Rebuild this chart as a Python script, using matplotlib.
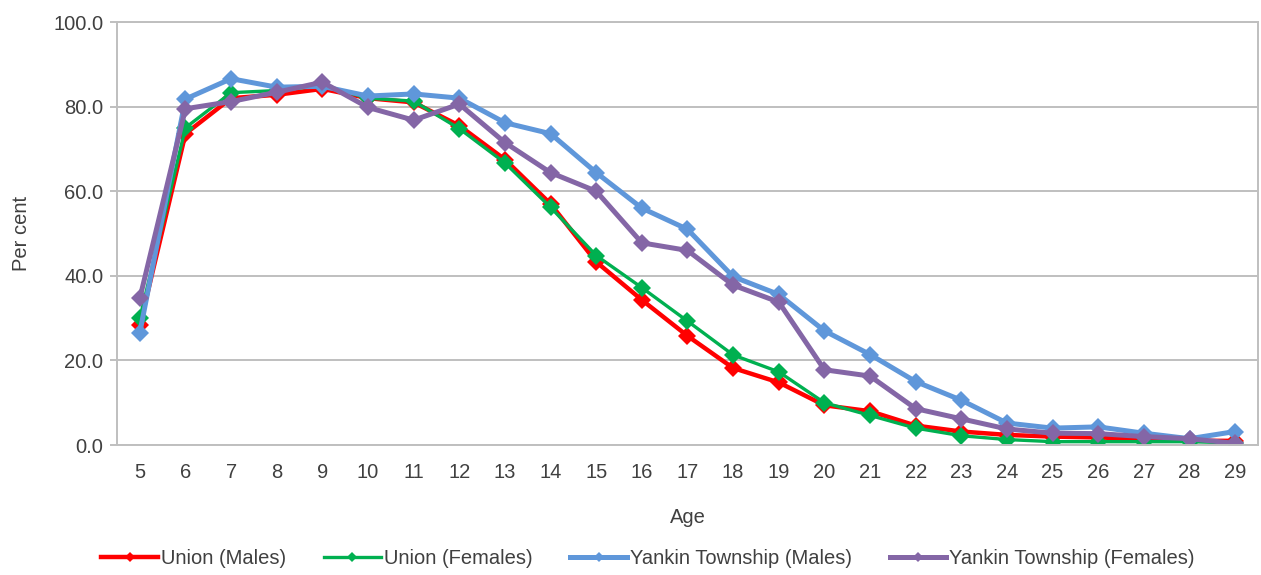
import matplotlib.pyplot as plt
import numpy as np

plt.rcParams['font.family'] = ['Liberation Sans', 'DejaVu Sans']

ages = list(range(5, 30))

union_males = [28.3, 73.6, 82.0, 82.8, 84.2, 82.0, 81.0, 75.5, 67.5, 57.0, 43.3, 34.3,
               25.8, 18.2, 14.8, 9.4, 8.0, 4.6, 3.2, 2.4, 2.0, 1.8, 1.4, 1.0, 1.0]
union_females = [30.0, 75.0, 83.3, 83.8, 85.0, 82.0, 81.3, 74.8, 66.7, 56.2, 44.8, 37.2,
                 29.3, 21.3, 17.3, 10.0, 7.0, 4.0, 2.2, 1.3, 0.8, 0.8, 0.8, 0.8, 0.5]
yankin_males = [26.6, 81.8, 86.6, 84.6, 84.8, 82.5, 83.0, 82.0, 76.2, 73.6, 64.4, 56.0,
                51.0, 39.8, 35.6, 27.0, 21.4, 15.0, 10.6, 5.2, 4.0, 4.3, 2.8, 1.5, 3.2]
yankin_females = [34.7, 79.5, 81.2, 83.4, 85.8, 79.8, 76.8, 80.6, 71.5, 64.4, 60.0, 47.8,
                  46.0, 37.8, 33.8, 17.8, 16.3, 8.6, 6.2, 3.8, 2.8, 2.7, 2.0, 1.5, 0.4]

series = [
    ("Union (Males)", union_males, "#FF0000", 3.2),
    ("Union (Females)", union_females, "#00B050", 2.4),
    ("Yankin Township (Males)", yankin_males, "#5F97DA", 3.6),
    ("Yankin Township (Females)", yankin_females, "#8466A6", 3.6),
]

fig = plt.figure(figsize=(12.61, 5.75), dpi=100)
ax = fig.add_axes([0.0928, 0.226, 0.9048, 0.7357])

for label, vals, col, lw in series:
    ax.plot(ages, vals, color=col, lw=lw, marker='D', markersize=9.5,
            markeredgewidth=0, label=label, solid_joinstyle='round')

grey = '#BFBFBF'
txt = '#404040'
fs = 14.5
ax.set_xlim(4.5, 29.5)
ax.set_ylim(0, 100)
ax.set_xticks(ages)
ax.set_xticklabels([str(a) for a in ages])
ax.set_yticks(np.arange(0, 101, 20))
ax.set_yticklabels([f"{v:.1f}" for v in np.arange(0, 101, 20)])
ax.yaxis.grid(True, color=grey, lw=1.4)
ax.set_axisbelow(True)
for s in ax.spines.values():
    s.set_color(grey)
    s.set_linewidth(1.4)
ax.tick_params(axis='x', length=0, pad=13, labelsize=fs, labelcolor=txt)
ax.tick_params(axis='y', length=5, color=grey, width=1.4, pad=5, labelsize=fs,
               labelcolor=txt)

ax.set_xlabel("Age", fontsize=fs, color=txt, labelpad=19)
ax.set_ylabel("Per cent", fontsize=fs, color=txt, labelpad=16)

handles, labels = ax.get_legend_handles_labels()
fig.legend(handles, labels, loc='center', bbox_to_anchor=(0.514, 0.028), ncol=4,
           frameon=False, fontsize=fs, handlelength=2.8, handletextpad=0.15,
           columnspacing=1.9, markerscale=0.55, labelcolor=txt)

fig.savefig("out.png", dpi=100)
